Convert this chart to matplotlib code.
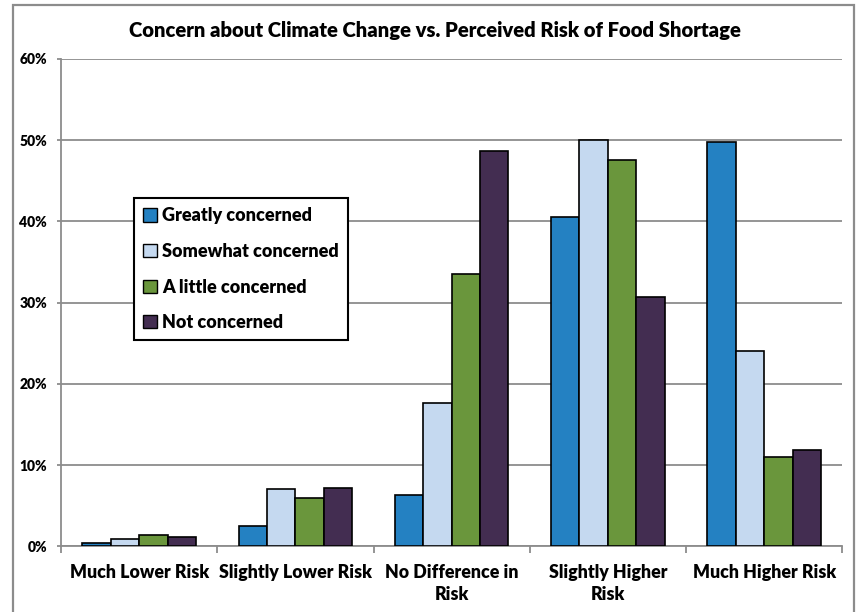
import numpy as np
import matplotlib
matplotlib.use('Agg')
import matplotlib.pyplot as plt
from matplotlib.patches import Rectangle

plt.rcParams['font.family'] = ['Lato', 'DejaVu Sans']
plt.rcParams['font.weight'] = 'heavy'

categories = ['Much Lower Risk', 'Slightly Lower Risk', 'No Difference in\nRisk',
              'Slightly Higher\nRisk', 'Much Higher Risk']
series = ['Greatly concerned', 'Somewhat concerned', 'A little concerned', 'Not concerned']
greatly = [0.4, 2.5, 6.3, 40.6, 49.8]
somewhat = [0.9, 7.0, 17.7, 50.0, 24.0]
little = [1.4, 6.0, 33.5, 47.6, 11.0]
not_conc = [1.2, 7.2, 48.7, 30.7, 11.9]
values = [greatly, somewhat, little, not_conc]
colors = ['#2481C2', '#C5D9F0', '#6A963C', '#432D51']

fig = plt.figure(figsize=(8.57, 6.12), dpi=100)
ax = fig.add_axes([61 / 857, 1 - 546.3 / 612, (842.3 - 61) / 857, (546.3 - 59) / 612])

# outer chart border
fig.patches.append(Rectangle((13 / 857, -0.02), (854 - 13) / 857, 1.02 - 5 / 612,
                             transform=fig.transFigure, fill=False,
                             edgecolor='#8c8c8c', linewidth=1.6))

x = np.arange(len(categories))
w = 1 / 5.5
for i, (vals, col, name) in enumerate(zip(values, colors, series)):
    ax.bar(x + (i - 1.5) * w, vals, width=w, color=col, edgecolor='black',
           linewidth=1.2, label=name, zorder=3)

ax.set_xlim(-0.5, len(categories) - 0.5)
ax.set_ylim(0, 60)
ax.set_yticks(np.arange(0, 61, 10))
ax.set_yticklabels([f'{v}%' for v in range(0, 61, 10)], fontsize=10)
ax.yaxis.grid(True, color='#8c8c8c', linewidth=1.3, zorder=0)
ax.set_axisbelow(True)

ax.set_xticks(np.arange(-0.5, len(categories)), minor=False)
ax.set_xticklabels([])
ax.set_xticks(x, minor=True)
ax.set_xticklabels(categories, minor=True, fontsize=12.8, linespacing=1.3)
ax.tick_params(axis='x', which='major', direction='out', length=5, color='#8c8c8c', width=1.3)
ax.tick_params(axis='x', which='minor', length=0, pad=13)
ax.tick_params(axis='y', direction='out', length=3, color='#8c8c8c', width=1.3, pad=7)

for s in ['top', 'right']:
    ax.spines[s].set_visible(False)
for s in ['left', 'bottom']:
    ax.spines[s].set_color('#8c8c8c')
    ax.spines[s].set_linewidth(1.3)

fig.text(434.5 / 857, 1 - 30 / 612, 'Concern about Climate Change vs. Perceived Risk of Food Shortage',
         ha='center', va='center', fontsize=14.6)

leg = ax.legend(loc='upper left', bbox_to_anchor=(134 / 857, 1 - 198.3 / 612),
                bbox_transform=fig.transFigure, borderaxespad=0, fontsize=13,
                handlelength=0.75, handleheight=0.75, handletextpad=0.3,
                labelspacing=1.03, borderpad=0.5, fancybox=False, framealpha=1)
leg.get_frame().set_edgecolor('black')
leg.get_frame().set_linewidth(1.5)
for h in leg.legend_handles:
    h.set_linewidth(1.0)

fig.savefig('out.png', dpi=100)
